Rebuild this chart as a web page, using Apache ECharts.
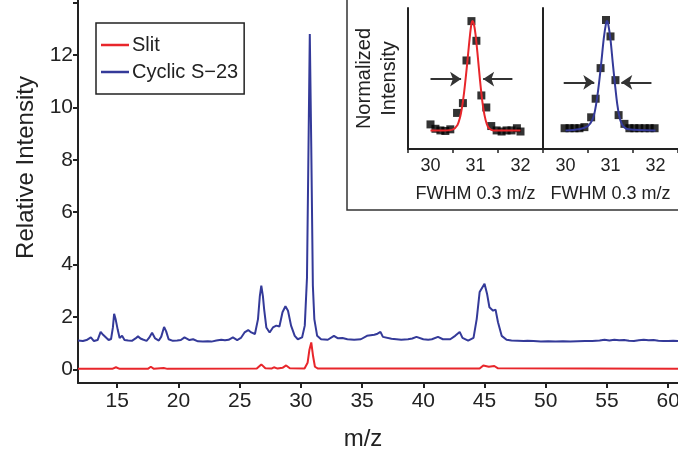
<!DOCTYPE html>
<html>
<head>
<meta charset="utf-8">
<script src="https://cdn.jsdelivr.net/npm/echarts@6/dist/echarts.min.js"></script>
<style>
html, body { margin: 0; padding: 0; background: #fff; }
#app { width: 678px; height: 458px; }
</style>
</head>
<body>
<div id="app"></div>
<script>
// main spectra, [m/z, relative intensity]
var cyclicSpectrum = [
    [11.8,1.10],[12.2,1.08],[12.5,1.12],[12.85,1.22],[13.1,1.08],[13.4,1.12],[13.65,1.43],[13.85,1.32],[14.0,1.36],
    [14.3,1.12],[14.5,1.16],[14.65,1.6],[14.75,2.12],[14.88,1.9],[14.95,1.95],[15.05,1.5],[15.2,1.2],[15.4,1.28],
    [15.6,1.12],[15.9,1.1],[16.2,1.09],[16.5,1.18],[16.7,1.26],[16.9,1.18],[17.1,1.14],[17.4,1.09],[17.6,1.2],
    [17.85,1.40],[18.1,1.18],[18.4,1.1],[18.6,1.25],[18.83,1.62],[19.0,1.45],[19.2,1.15],[19.55,1.09],[19.9,1.1],
    [20.2,1.12],[20.5,1.22],[20.9,1.12],[21.2,1.15],[21.6,1.07],[22.0,1.06],[22.4,1.07],[22.7,1.06],[23.1,1.1],
    [23.5,1.13],[23.8,1.11],[24.1,1.13],[24.45,1.22],[24.8,1.12],[25.1,1.2],[25.4,1.41],[25.7,1.5],[25.95,1.41],
    [26.25,1.35],[26.5,1.92],[26.65,2.8],[26.77,3.2],[26.9,2.8],[27.0,2.3],[27.18,1.6],[27.45,1.41],[27.72,1.6],
    [28.0,1.67],[28.25,1.64],[28.5,2.18],[28.74,2.41],[28.95,2.24],[29.2,1.67],[29.5,1.28],[29.75,1.15],[30.1,1.22],
    [30.32,1.67],[30.5,3.5],[30.6,7.5],[30.73,12.8],[30.85,8.5],[30.98,3.2],[31.1,1.92],[31.33,1.28],[31.65,1.15],
    [32.2,1.13],[32.7,1.28],[33.0,1.19],[33.4,1.2],[33.8,1.15],[34.35,1.13],[34.9,1.15],[35.4,1.28],[36.0,1.32],
    [36.2,1.35],[36.5,1.43],[36.7,1.24],[37.4,1.17],[37.8,1.15],[38.2,1.13],[38.75,1.15],[39.1,1.18],[39.44,1.24],
    [40.0,1.15],[40.4,1.13],[40.7,1.15],[41.2,1.24],[41.6,1.15],[42.2,1.15],[42.6,1.28],[42.97,1.43],[43.2,1.2],
    [43.66,1.1],[44.1,1.2],[44.36,1.92],[44.6,2.95],[45.0,3.27],[45.2,2.9],[45.4,2.37],[45.7,2.24],[45.9,2.28],
    [46.1,1.8],[46.4,1.28],[46.8,1.13],[47.2,1.1],[47.7,1.09],[48.2,1.08],[48.5,1.09],[49.0,1.08],[49.6,1.06],
    [50.2,1.07],[50.8,1.06],[51.4,1.07],[52.0,1.06],[52.6,1.07],[53.2,1.08],[53.8,1.08],[54.4,1.1],[54.8,1.13],
    [55.2,1.1],[55.6,1.13],[56.0,1.11],[56.4,1.12],[56.8,1.09],[57.2,1.08],[57.6,1.11],[58.0,1.13],[58.4,1.11],
    [58.8,1.12],[59.2,1.09],[59.6,1.08],[60.0,1.08],[60.4,1.09],[60.8,1.08]
];
var slitSpectrum = [
    [11.8,0.02],[14.6,0.02],[14.9,0.08],[15.2,0.02],[17.5,0.02],[17.75,0.1],[18.0,0.02],[18.8,0.05],[19.1,0.02],
    [26.4,0.03],[26.77,0.19],[27.1,0.04],[27.6,0.03],[27.8,0.08],[28.1,0.03],[28.5,0.06],[28.8,0.15],[29.1,0.04],
    [30.3,0.03],[30.55,0.25],[30.7,0.75],[30.85,1.03],[31.0,0.5],[31.15,0.1],[31.4,0.03],[44.6,0.03],[44.9,0.15],
    [45.06,0.22],[45.35,0.1],[45.5,0.12],[45.8,0.13],[46.1,0.04],[60.8,0.02]
];

// inset peaks (normalized)
var slitPoints = [
    [30.0,0.055],[30.11,0.015],[30.22,0.0],[30.33,-0.005],[30.44,0.01],[30.59,0.16],[30.72,0.25],[30.8,0.64],
    [30.91,1.0],[31.02,0.82],[31.13,0.32],[31.24,0.21],[31.35,0.04],[31.47,0.0],[31.58,-0.01],[31.69,0.0],
    [31.8,0.0],[31.92,0.02],[32.0,-0.01]
];
var slitFit = [
    [30.0,0.0],[30.3,0.0],[30.5,0.01],[30.6,0.05],[30.65,0.11],[30.7,0.21],[30.75,0.36],[30.8,0.55],[30.85,0.76],
    [30.9,0.95],[30.93,1.0],[30.96,0.98],[31.0,0.88],[31.05,0.68],[31.1,0.46],[31.15,0.27],[31.2,0.14],[31.25,0.06],
    [31.3,0.02],[31.4,0.0],[32.0,0.0]
];
var cyclicPoints = [
    [29.98,0.02],[30.09,0.02],[30.2,0.02],[30.31,0.02],[30.42,0.03],[30.57,0.12],[30.67,0.29],[30.78,0.57],
    [30.9,1.01],[31.0,0.86],[31.11,0.46],[31.18,0.14],[31.31,0.06],[31.42,0.02],[31.53,0.02],[31.64,0.02],
    [31.76,0.02],[31.87,0.02],[31.98,0.02]
];
var cyclicFit = [
    [30.0,0.0],[30.3,0.01],[30.5,0.04],[30.6,0.1],[30.65,0.17],[30.7,0.29],[30.75,0.45],[30.8,0.64],[30.85,0.84],
    [30.9,0.98],[30.92,1.0],[30.95,0.97],[31.0,0.83],[31.05,0.62],[31.1,0.42],[31.15,0.24],[31.2,0.12],[31.25,0.06],
    [31.3,0.03],[31.4,0.01],[32.0,0.0]
];
// FWHM arrows: [from, to]
var slitArrows = [[[30.0,0.47],[30.68,0.47]], [[31.82,0.47],[31.17,0.47]]];
var cyclicArrows = [[[29.96,0.44],[30.64,0.44]], [[31.91,0.44],[31.24,0.44]]];

var legendNames = ['Slit', 'Cyclic S\u221223'];
var fwhmLabel = 'FWHM 0.3 m/z';

var FONT = '"Liberation Sans Narrow", "Arial Narrow", "Liberation Sans", sans-serif';
var RED = '#e8262b', BLUE = '#343a99', INK = '#222';

function arrowLines(list) {
    return list.map(function (a) {
        return [{ coord: a[0] }, { coord: a[1] }];
    });
}

function insetGrid(left) {
    return { left: left, width: 135, top: 8, height: 141, outerBoundsMode: 'none', containLabel: false };
}

function insetTickAxis(idx) {
    return {
        gridIndex: idx, type: 'value', position: 'bottom', min: 29.5, max: 32.5, interval: 1,
        axisLine: { onZero: false, lineStyle: { color: INK, width: 2 } },
        axisTick: { length: 4, lineStyle: { color: INK, width: 1.5 } },
        axisLabel: { show: false }, splitLine: { show: false }
    };
}

function insetLabelAxis(idx) {
    return {
        gridIndex: idx, type: 'value', position: 'bottom', offset: 0, min: 29.5, max: 32.5, interval: 0.5,
        name: fwhmLabel, nameLocation: 'middle', nameGap: 36,
        nameTextStyle: { fontSize: 18, color: INK },
        axisLine: { show: false, onZero: false }, axisTick: { show: false }, splitLine: { show: false },
        axisLabel: { fontSize: 18, color: INK, margin: 8,
            formatter: function (v) { return v % 1 === 0 ? v : ''; } }
    };
}

var myChart = echarts.init(document.getElementById('app'));
var option = {
    animation: false,
    textStyle: { fontFamily: FONT },
    grid: [
        { left: 78, right: 0, top: 0, bottom: 75, outerBoundsMode: 'none', containLabel: false },
        insetGrid(408),
        insetGrid(543)
    ],
    graphic: [{
        type: 'rect',
        z: -10,
        shape: { x: 347, y: -3, width: 340, height: 213 },
        style: { fill: '#fff', stroke: '#333', lineWidth: 1.5 }
    }],
    legend: {
        left: 96, top: 23,
        orient: 'vertical',
        itemWidth: 28, itemHeight: 2.5, itemGap: 7,
        icon: 'rect',
        borderColor: INK, borderWidth: 1.5,
        padding: [12, 6, 12, 5],
        textStyle: { fontFamily: FONT, fontSize: 20, color: INK, padding: [0, 0, 0, -2] },
        data: legendNames
    },
    xAxis: [
        {
            gridIndex: 0, type: 'value', min: 11.8, max: 60.8, splitNumber: 10,
            name: 'm/z', nameLocation: 'middle', nameGap: 44,
            nameTextStyle: { fontSize: 24, color: INK, padding: [0, 30, 0, 0] },
            axisLine: { onZero: false, lineStyle: { color: INK, width: 2 } },
            axisTick: { length: 5, lineStyle: { color: INK, width: 2 } },
            axisLabel: { fontSize: 21, color: INK, margin: 8, showMinLabel: false, showMaxLabel: false },
            splitLine: { show: false }
        },
        insetTickAxis(1),
        insetTickAxis(2),
        insetLabelAxis(1),
        insetLabelAxis(2)
    ],
    yAxis: [
        {
            gridIndex: 0, type: 'value', min: -0.52, max: 14.1, splitNumber: 7,
            name: 'Relative Intensity', nameLocation: 'middle', nameGap: 38,
            nameTextStyle: { fontSize: 24, color: INK, padding: [0, 0, 0, 48] },
            axisLine: { show: true, onZero: false, lineStyle: { color: INK, width: 2 } },
            axisTick: { show: true, length: 5, lineStyle: { color: INK, width: 2 } },
            axisLabel: { fontSize: 21, color: INK, margin: 5, showMinLabel: false, showMaxLabel: false,
                formatter: function (v) { return v > 13 ? '' : v; } },
            splitLine: { show: false }
        },
        {
            gridIndex: 1, type: 'value', min: -0.17, max: 1.12,
            name: 'Normalized\nIntensity', nameLocation: 'middle', nameGap: 6,
            nameTextStyle: { fontSize: 20, color: INK, lineHeight: 25 },
            axisLine: { show: true, onZero: false, lineStyle: { color: INK, width: 2 } },
            axisTick: { show: false }, axisLabel: { show: false }, splitLine: { show: false }
        },
        {
            gridIndex: 2, type: 'value', min: -0.17, max: 1.12,
            axisLine: { show: true, onZero: false, lineStyle: { color: INK, width: 2 } },
            axisTick: { show: false }, axisLabel: { show: false }, splitLine: { show: false }
        }
    ],
    series: [
        {
            name: legendNames[0], type: 'line', xAxisIndex: 0, yAxisIndex: 0,
            data: slitSpectrum, symbol: 'none', color: RED,
            lineStyle: { width: 2, color: RED }
        },
        {
            name: legendNames[1], type: 'line', xAxisIndex: 0, yAxisIndex: 0,
            data: cyclicSpectrum, symbol: 'none', color: BLUE,
            lineStyle: { width: 2, color: BLUE }
        },
        {
            type: 'line', xAxisIndex: 1, yAxisIndex: 1, data: slitFit,
            symbol: 'none', smooth: 0.3, lineStyle: { width: 2, color: RED },
            markLine: {
                silent: true, symbol: ['none', 'arrow'], symbolSize: 11,
                label: { show: false },
                lineStyle: { color: '#333', width: 2, type: 'solid' },
                data: arrowLines(slitArrows)
            }
        },
        {
            type: 'scatter', xAxisIndex: 1, yAxisIndex: 1, data: slitPoints,
            symbol: 'rect', symbolSize: 8, itemStyle: { color: '#000' }, z: 1
        },
        {
            type: 'line', xAxisIndex: 2, yAxisIndex: 2, data: cyclicFit,
            symbol: 'none', smooth: 0.3, lineStyle: { width: 2, color: BLUE },
            markLine: {
                silent: true, symbol: ['none', 'arrow'], symbolSize: 11,
                label: { show: false },
                lineStyle: { color: '#333', width: 2, type: 'solid' },
                data: arrowLines(cyclicArrows)
            }
        },
        {
            type: 'scatter', xAxisIndex: 2, yAxisIndex: 2, data: cyclicPoints,
            symbol: 'rect', symbolSize: 8, itemStyle: { color: '#000' }, z: 1
        }
    ]
};
myChart.setOption(option);
</script>
</body>
</html>
